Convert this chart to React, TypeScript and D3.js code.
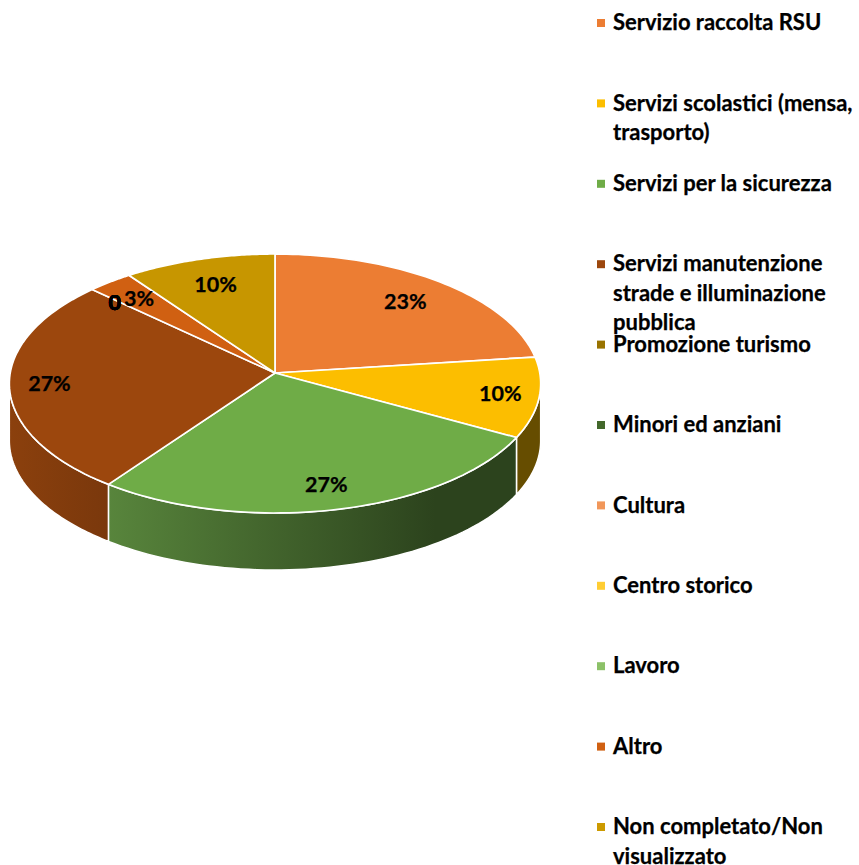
import React from "react";
import * as d3 from "d3";

const categories = [
  "Servizio raccolta RSU",
  "Servizi scolastici (mensa, trasporto)",
  "Servizi per la sicurezza",
  "Servizi manutenzione strade e illuminazione pubblica",
  "Promozione turismo",
  "Minori ed anziani",
  "Cultura",
  "Centro storico",
  "Lavoro",
  "Altro",
  "Non completato/Non visualizzato",
];
const legendLines = [
  ["Servizio raccolta RSU"],
  ["Servizi scolastici (mensa,", "trasporto)"],
  ["Servizi per la sicurezza"],
  ["Servizi manutenzione", "strade e illuminazione", "pubblica"],
  ["Promozione turismo"],
  ["Minori ed anziani"],
  ["Cultura"],
  ["Centro storico"],
  ["Lavoro"],
  ["Altro"],
  ["Non completato/Non", "visualizzato"],
];
const values = [23, 10, 27, 27, 0, 0, 0, 0, 0, 3, 10];
const labels = ["23%", "10%", "27%", "27%", "0", "0", "0", "0", "0", "3%", "10%"];
const labelRadius = [0.78, 0.855, 0.83, 0.85, 0.87, 0.87, 0.87, 0.87, 0.87, 0.815, 0.77];
const colors = ["#EC7D33", "#FCBE00", "#6FAC47", "#9C470D", "#997300", "#43682B", "#F1975A", "#FFCD33", "#8CC168", "#D06012", "#C79600"];
const wallStops: [string, string, number][] = [
  ["#8B400D", "#7A380C", 0],
  ["#664D00", "#664D00", 0],
  ["#58853C", "#2C431D", 0.8],
];

const W = 859, H = 865;
const CX = 275, CY = 373, RX = 264.8, RY = 128.65, K = 0.0811, DEPTH = 57;

// perspective view of the pie disc: angle clockwise from 12 o'clock, r in 0..1
const project = (a: number, r = 1, dy = 0): [number, number] => {
  const u = Math.sin(a) * r, v = Math.cos(a) * r;
  const w = 1 + K * v;
  return [CX + (RX * u) / w, CY - (RY * v) / w + dy];
};
const sweep = (a0: number, a1: number, dy = 0) =>
  d3.range(0, 61).map((i) => project(a0 + ((a1 - a0) * i) / 60, 1, dy));

const line = d3.line();
const arcs = d3.pie<number>().sort(null).value((d) => d)(values);
const wallMin = Math.PI - Math.acos(K);
const wallMax = Math.PI + Math.acos(K);
const legendY = d3.scaleLinear().domain([0, categories.length - 1]).range([23, 827]);

export default function App() {
  const walls = arcs
    .map((s, i) => ({ i, a0: Math.max(s.startAngle, wallMin), a1: Math.min(s.endAngle, wallMax) }))
    .filter((d) => d.a1 > d.a0)
    .map((d) => {
      const top = sweep(d.a0, d.a1);
      const bottom = sweep(d.a0, d.a1, DEPTH).reverse();
      return { ...d, top, path: line([...top, ...bottom]) + "Z" };
    });
  const gradientFor = (i: number) => (i === 2 ? "wall2" : i === 3 ? "wall3" : null);
  return (
    <svg width={W} height={H} viewBox={`0 0 ${W} ${H}`} style={{ position: "absolute", left: 0, top: 0, background: "#fff" }}
      fontFamily="Lato, Carlito, sans-serif" fontWeight={700}>
      <defs>
        <linearGradient id="wall3" gradientUnits="userSpaceOnUse" x1={project(wallMax)[0]} x2={project(arcs[3].startAngle)[0]} y1={0} y2={0}>
          <stop offset="0" stopColor={wallStops[0][0]} />
          <stop offset="1" stopColor={wallStops[0][1]} />
        </linearGradient>
        <linearGradient id="wall2" gradientUnits="userSpaceOnUse" x1={project(arcs[2].endAngle)[0]} x2={project(arcs[2].startAngle)[0]} y1={0} y2={0}>
          <stop offset="0" stopColor={wallStops[2][0]} />
          <stop offset={wallStops[2][2]} stopColor={wallStops[2][1]} />
          <stop offset="1" stopColor={wallStops[2][1]} />
        </linearGradient>
      </defs>
      {walls.map((d) => (
        <path key={d.i} d={d.path}
          fill={gradientFor(d.i) ? `url(#${gradientFor(d.i)})` : wallStops[1][0]}
          stroke="#fff" strokeWidth={1.5} strokeLinejoin="round" />
      ))}
      {arcs.map((s, i) =>
        s.endAngle > s.startAngle ? (
          <path key={i} d={line([[CX, CY], ...sweep(s.startAngle, s.endAngle)]) + "Z"}
            fill={colors[i]} stroke="#fff" strokeWidth={1.7} strokeLinejoin="round" />
        ) : null
      )}
      {arcs.map((s, i) => {
        const [x, y] = project((s.startAngle + s.endAngle) / 2, labelRadius[i]);
        const shift = values[i] === 0 ? 3 : 0;
        return (
          <text key={i} x={x} y={y + shift} dy="0.35em" textAnchor="middle" fontSize={21.5} fill="#000" stroke="#000" strokeWidth={0.25}>{labels[i]}</text>
        );
      })}
      {categories.map((c, i) => (
        <g key={c}>
          <rect x={597} y={legendY(i) - 4} width={8} height={8} fill={colors[i] === "#C79600" ? "#CC9A00" : colors[i]} />
          {legendLines[i].map((t, j) => (
            <text key={j} x={613} y={legendY(i) + j * 29.3 - 0.5} dy="0.35em" fontSize={22} fill="#000" stroke="#000" strokeWidth={0.25}>{t}</text>
          ))}
        </g>
      ))}
    </svg>
  );
}
